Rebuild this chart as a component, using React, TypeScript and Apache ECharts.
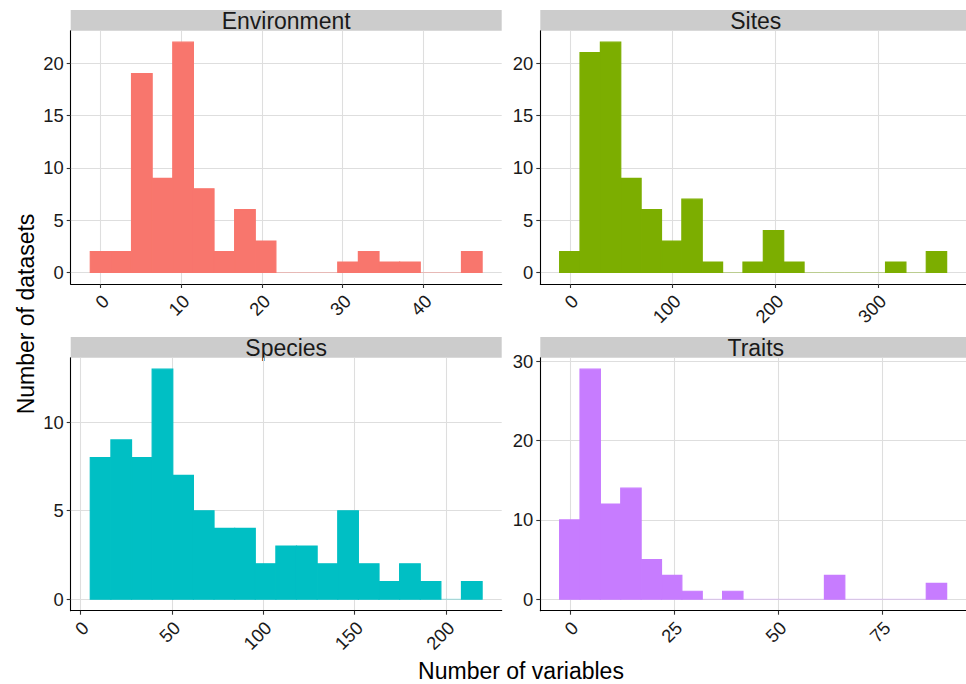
import React, { useEffect, useRef } from "react";
import * as echarts from "echarts";

// ---- data ----
const panelNames = ["Environment", "Sites", "Species", "Traits"];
const panelColors = ["#F8766D", "#7CAE00", "#00BFC4", "#C77CFF"];

const envCounts = [2, 2, 19, 9, 22, 8, 2, 6, 3, 0, 0, 0, 1, 2, 1, 1, 0, 0, 2];
const envBinStart = -1.278;
const envBinWidth = 2.556;
const envXTicks = [0, 10, 20, 30, 40];
const envYTicks = [0, 5, 10, 15, 20];

const sitesCounts = [2, 21, 22, 9, 6, 3, 7, 1, 0, 1, 4, 1, 0, 0, 0, 0, 1, 0, 2];
const sitesBinStart = -9.92;
const sitesBinWidth = 19.83;
const sitesXTicks = [0, 100, 200, 300];
const sitesYTicks = [0, 5, 10, 15, 20];

const speciesCounts = [8, 9, 8, 13, 7, 5, 4, 4, 2, 3, 3, 2, 5, 2, 1, 2, 1, 0, 1];
const speciesBinStart = 5.36;
const speciesBinWidth = 11.28;
const speciesXTicks = [0, 50, 100, 150, 200];
const speciesYTicks = [0, 5, 10];

const traitsCounts = [10, 29, 12, 14, 5, 3, 1, 0, 1, 0, 0, 0, 0, 3, 0, 0, 0, 0, 2];
const traitsBinStart = -2.444;
const traitsBinWidth = 4.889;
const traitsXTicks = [0, 25, 50, 75];
const traitsYTicks = [0, 10, 20, 30];

const xTitle = "Number of variables";
const yTitle = "Number of datasets";

// ---- build ----
const panels = [
  { counts: envCounts, start: envBinStart, width: envBinWidth, xTicks: envXTicks, yTicks: envYTicks },
  { counts: sitesCounts, start: sitesBinStart, width: sitesBinWidth, xTicks: sitesXTicks, yTicks: sitesYTicks },
  { counts: speciesCounts, start: speciesBinStart, width: speciesBinWidth, xTicks: speciesXTicks, yTicks: speciesYTicks },
  { counts: traitsCounts, start: traitsBinStart, width: traitsBinWidth, xTicks: traitsXTicks, yTicks: traitsYTicks },
];

const FONT = "'Liberation Sans', Arial, Helvetica, sans-serif";
const TICK_FS = 18.4;
const TITLE_FS = 23;
const STRIP_H = 20.7;
const gridBoxes = [
  { left: 70.7, top: 30.7, width: 431, height: 253.3 },
  { left: 540.3, top: 30.7, width: 431, height: 253.3 },
  { left: 70.7, top: 357.7, width: 431, height: 253 },
  { left: 540.3, top: 357.7, width: 431, height: 253 },
];

function buildOption() {
  const grid: any[] = [];
  const xAxis: any[] = [];
  const yAxis: any[] = [];
  const series: any[] = [];
  const graphic: any[] = [];

  panels.forEach((p, i) => {
    const g = gridBoxes[i];
    grid.push({ left: g.left, top: g.top, width: g.width, height: g.height, containLabel: false });
    const lo = p.start;
    const hi = p.start + p.width * p.counts.length;
    const span = hi - lo;
    const maxC = Math.max(...p.counts);
    xAxis.push({
      type: "value",
      gridIndex: i,
      min: lo - 0.05 * span,
      max: hi + 0.05 * span,
      axisLine: { show: true, onZero: false, lineStyle: { color: "#000", width: 1.1 } },
      axisTick: { show: true, length: 4, customValues: p.xTicks, lineStyle: { color: "#333", width: 1.1 } },
      axisLabel: {
        show: true,
        customValues: p.xTicks,
        rotate: 45,
        align: "right",
        verticalAlign: "top",
        lineHeight: 14,
        margin: 9,
        fontSize: TICK_FS,
        color: "#1a1a1a",
        fontFamily: FONT,
      },
      splitLine: { show: true, lineStyle: { color: "#DEDEDE", width: 1.1 } },
    });
    yAxis.push({
      type: "value",
      gridIndex: i,
      min: -0.05 * maxC,
      max: 1.05 * maxC,
      axisLine: { show: true, onZero: false, lineStyle: { color: "#000", width: 1.1 } },
      axisTick: { show: true, length: 4, customValues: p.yTicks, lineStyle: { color: "#333", width: 1.1 } },
      axisLabel: {
        show: true,
        customValues: p.yTicks,
        margin: 7,
        fontSize: TICK_FS,
        color: "#1a1a1a",
        fontFamily: FONT,
      },
      splitLine: { show: true, lineStyle: { color: "#DEDEDE", width: 1.1 } },
    });
    const color = panelColors[i];
    const data = p.counts.map((c, k) => [p.start + k * p.width, p.start + (k + 1) * p.width, c]);
    series.push({
      type: "custom",
      xAxisIndex: i,
      yAxisIndex: i,
      coordinateSystem: "cartesian2d",
      encode: { x: [0, 1], y: 2 },
      data,
      renderItem: (params: any, api: any) => {
        const x0 = api.value(0);
        const x1 = api.value(1);
        const c = api.value(2);
        const a = api.coord([x0, c]);
        const b = api.coord([x1, 0]);
        if (c === 0) {
          return {
            type: "rect",
            shape: { x: a[0], y: b[1] - 0.5, width: b[0] - a[0], height: 1 },
            style: { fill: color, opacity: 0.35 },
          };
        }
        return {
          type: "rect",
          shape: { x: a[0], y: a[1], width: b[0] - a[0], height: b[1] - a[1] },
          style: { fill: color, stroke: color, lineWidth: 1.2 },
        };
      },
    });
    graphic.push({
      type: "rect",
      shape: { x: g.left, y: g.top - STRIP_H, width: g.width, height: STRIP_H },
      style: { fill: "#CCCCCC" },
      silent: true,
    });
    graphic.push({
      type: "text",
      x: g.left + g.width / 2,
      y: g.top - STRIP_H / 2 + 0.8,
      style: {
        text: panelNames[i],
        fontSize: TITLE_FS,
        fontFamily: FONT,
        fill: "#1a1a1a",
        align: "center",
        verticalAlign: "middle",
      },
      silent: true,
    });
  });

  graphic.push({
    type: "text",
    x: 521,
    y: 671,
    style: { text: xTitle, fontSize: TITLE_FS, fontFamily: FONT, fill: "#000", align: "center", verticalAlign: "middle" },
  });
  graphic.push({
    type: "text",
    x: 26,
    y: 314,
    rotation: Math.PI / 2,
    style: { text: yTitle, fontSize: TITLE_FS, fontFamily: FONT, fill: "#000", align: "center", verticalAlign: "middle" },
  });

  return { animation: false, backgroundColor: "#fff", grid, xAxis, yAxis, series, graphic };
}

export default function App() {
  const ref = useRef<HTMLDivElement>(null);
  useEffect(() => {
    if (!ref.current) return;
    const chart = echarts.init(ref.current, undefined, { renderer: "svg" });
    chart.setOption(buildOption() as any);
    return () => chart.dispose();
  }, []);
  return (
    <div
      ref={ref}
      style={{ position: "absolute", left: 0, top: 0, width: 966, height: 684, background: "#fff" }}
    />
  );
}
